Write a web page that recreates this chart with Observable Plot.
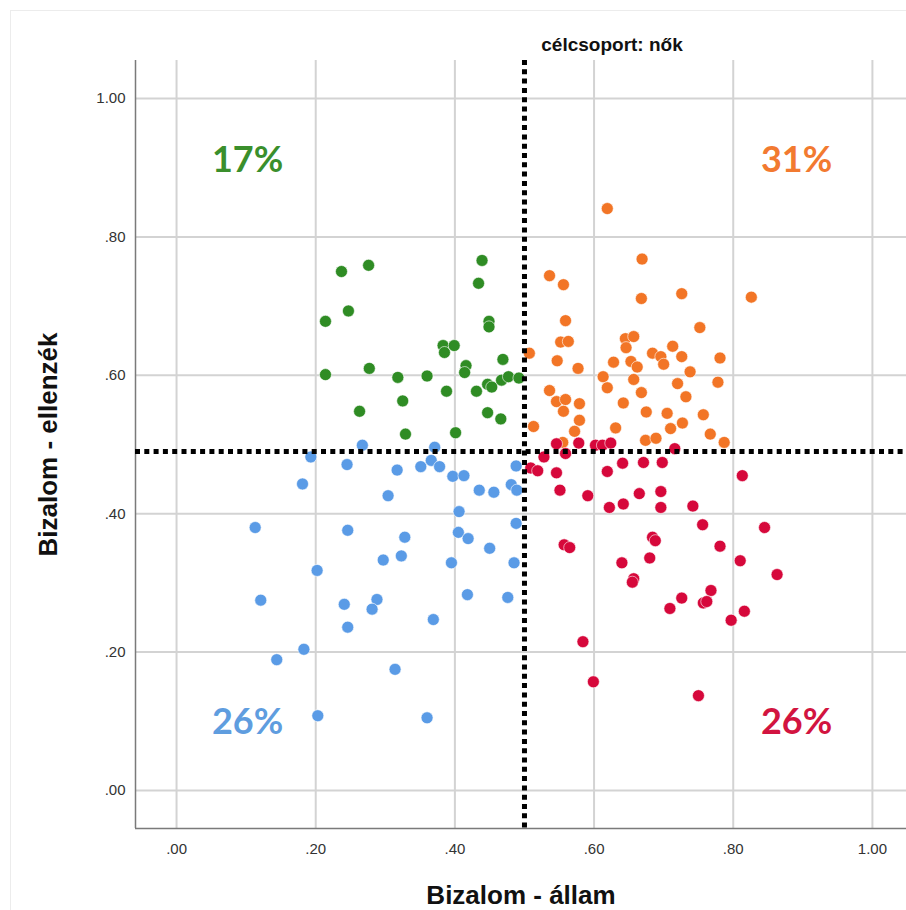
<!DOCTYPE html>
<html>
<head>
<meta charset="utf-8">
<script src="https://cdn.jsdelivr.net/npm/d3@7"></script>
<script src="https://cdn.jsdelivr.net/npm/@observablehq/plot@0.6"></script>
<style>
  html, body { margin: 0; padding: 0; background: #fff; }
  #wrap { position: relative; width: 906px; height: 910px; }
  #wrap::before { content: ""; position: absolute; left: 10px; top: 10px; right: 0; bottom: 0;
    border-left: 1px solid #ececec; border-top: 1px solid #ececec; pointer-events: none; }
</style>
</head>
<body>
<div id="wrap"></div>
<script>
// ---- data (x = Bizalom - állam, y = Bizalom - ellenzék) ----
const greenPts = [
  [0.237,0.750],[0.276,0.759],[0.439,0.766],[0.434,0.733],[0.214,0.678],[0.247,0.693],
  [0.449,0.678],[0.449,0.670],[0.383,0.643],[0.385,0.633],[0.399,0.643],[0.469,0.623],
  [0.214,0.601],[0.277,0.610],[0.318,0.597],[0.360,0.599],[0.416,0.614],[0.414,0.604],
  [0.388,0.577],[0.431,0.577],[0.447,0.587],[0.453,0.583],[0.467,0.593],[0.477,0.598],
  [0.492,0.596],[0.325,0.563],[0.263,0.548],[0.447,0.546],[0.466,0.537],[0.329,0.515],
  [0.401,0.517]
];
const orangePts = [
  [0.619,0.841],[0.669,0.768],[0.536,0.744],[0.556,0.731],[0.668,0.711],[0.726,0.718],
  [0.826,0.713],[0.559,0.679],[0.752,0.669],[0.552,0.648],[0.563,0.649],[0.645,0.653],
  [0.657,0.656],[0.646,0.640],[0.713,0.642],[0.507,0.632],[0.547,0.621],[0.577,0.610],
  [0.628,0.619],[0.653,0.620],[0.662,0.612],[0.684,0.632],[0.696,0.627],[0.700,0.616],
  [0.726,0.627],[0.738,0.605],[0.781,0.625],[0.613,0.598],[0.619,0.582],[0.657,0.594],
  [0.720,0.588],[0.778,0.590],[0.536,0.578],[0.546,0.562],[0.559,0.565],[0.556,0.548],
  [0.579,0.559],[0.642,0.560],[0.668,0.575],[0.732,0.569],[0.675,0.547],[0.705,0.545],
  [0.757,0.543],[0.579,0.535],[0.513,0.526],[0.572,0.519],[0.631,0.524],[0.710,0.523],
  [0.727,0.531],[0.767,0.515],[0.674,0.506],[0.689,0.509],[0.787,0.503],[0.555,0.503]
];
const bluePts = [
  [0.267,0.499],[0.193,0.482],[0.371,0.496],[0.245,0.471],[0.317,0.463],[0.351,0.468],
  [0.366,0.477],[0.378,0.468],[0.397,0.454],[0.413,0.455],[0.488,0.469],[0.181,0.443],
  [0.304,0.426],[0.435,0.434],[0.456,0.431],[0.481,0.442],[0.489,0.434],[0.406,0.403],
  [0.113,0.380],[0.246,0.376],[0.328,0.366],[0.405,0.373],[0.419,0.364],[0.488,0.386],
  [0.450,0.350],[0.297,0.333],[0.323,0.339],[0.395,0.329],[0.485,0.329],[0.202,0.318],
  [0.121,0.275],[0.241,0.269],[0.288,0.276],[0.281,0.262],[0.418,0.283],[0.476,0.279],
  [0.246,0.236],[0.369,0.247],[0.183,0.204],[0.144,0.189],[0.314,0.175],[0.203,0.108],
  [0.360,0.105]
];
const redPts = [
  [0.546,0.501],[0.578,0.502],[0.602,0.499],[0.612,0.499],[0.624,0.502],[0.716,0.494],
  [0.528,0.482],[0.559,0.487],[0.509,0.466],[0.519,0.462],[0.546,0.459],[0.641,0.473],
  [0.671,0.474],[0.698,0.474],[0.619,0.461],[0.813,0.455],[0.551,0.434],[0.591,0.426],
  [0.665,0.429],[0.696,0.432],[0.622,0.409],[0.642,0.414],[0.696,0.409],[0.742,0.411],
  [0.756,0.384],[0.845,0.380],[0.557,0.355],[0.565,0.351],[0.684,0.366],[0.688,0.361],
  [0.781,0.353],[0.640,0.329],[0.680,0.336],[0.810,0.332],[0.657,0.306],[0.655,0.301],
  [0.863,0.312],[0.768,0.289],[0.726,0.278],[0.709,0.263],[0.757,0.271],[0.762,0.273],
  [0.797,0.246],[0.816,0.259],[0.584,0.215],[0.599,0.157],[0.750,0.137]
];
const quadrants = ["green", "orange", "blue", "red"];
const percentLabels = ["17%", "31%", "26%", "26%"];
const tickValues = [0, 0.2, 0.4, 0.6, 0.8, 1.0];
const cutX = 0.5;
const cutY = 0.49;
const titleText = "célcsoport: nők";
const xLabel = "Bizalom - állam";
const yLabel = "Bizalom - ellenzék";

// ---- styles ----
const dotColors = {green: "#2f8c24", orange: "#f27526", blue: "#5a9be6", red: "#d6083b"};
const textColors = {green: "#3a8f2c", orange: "#f27a30", blue: "#5f9ddf", red: "#d21440"};
const labelAnchors = {green: [0.102, 0.91], orange: [0.891, 0.91], blue: [0.102, 0.098], red: [0.891, 0.098]};

const points = [];
[["green", greenPts], ["orange", orangePts], ["blue", bluePts], ["red", redPts]].forEach(([g, arr]) =>
  arr.forEach(([x, y]) => points.push({g, x, y})));

const quadText = quadrants.map((g, i) => ({g, label: percentLabels[i], x: labelAnchors[g][0], y: labelAnchors[g][1]}));

const fmt = d => d === 1 ? "1.00" : d3.format(".2f")(d).replace(/^0/, "");
const xDom = [-0.059, 1.049];
const yDom = [-0.055, 1.055];
const sans = "'Liberation Sans', Arial, sans-serif";

const chart = Plot.plot({
  width: 906,
  height: 910,
  marginLeft: 135,
  marginRight: 0,
  marginTop: 60,
  marginBottom: 82,
  style: {fontFamily: sans, background: "transparent"},
  x: {domain: xDom},
  y: {domain: yDom},
  marks: [
    Plot.gridX(tickValues, {stroke: "#d3d3d3", strokeOpacity: 1, strokeWidth: 2}),
    Plot.gridY(tickValues, {stroke: "#d3d3d3", strokeOpacity: 1, strokeWidth: 2}),
    Plot.ruleX([xDom[0]], {stroke: "#7a7a7a", strokeWidth: 1.5}),
    Plot.ruleY([yDom[0]], {stroke: "#7a7a7a", strokeWidth: 1.5}),
    Plot.axisX(tickValues, {tickSize: 0, tickPadding: 15, tickFormat: fmt, fontSize: 15, fill: "#333", label: null}),
    Plot.axisY(tickValues, {tickSize: 0, tickPadding: 10, tickFormat: fmt, fontSize: 15, fill: "#333", label: null}),
    Plot.dot(points, {x: "x", y: "y", r: 6, fill: d => dotColors[d.g], stroke: "white", strokeWidth: 0.6}),
    Plot.ruleX([cutX], {stroke: "black", strokeWidth: 5, strokeDasharray: "5,4.3"}),
    Plot.ruleY([cutY], {stroke: "black", strokeWidth: 5, strokeDasharray: "5,4.3"}),
    Plot.text(quadText, {x: "x", y: "y", text: "label", fill: d => textColors[d.g],
      fontSize: 36, fontWeight: 700, fontFamily: "Lato, 'Open Sans', sans-serif"}),
    Plot.text([titleText], {frameAnchor: "top", lineAnchor: "middle", textAnchor: "middle", dx: 91, dy: -16,
      fontSize: 19, fontWeight: 700, fill: "#111"}),
    Plot.text([xLabel], {frameAnchor: "bottom", lineAnchor: "middle", textAnchor: "middle", dy: 67,
      fontSize: 26, fontWeight: 700, fill: "#111"}),
    Plot.text([yLabel], {frameAnchor: "left", lineAnchor: "middle", textAnchor: "middle", dx: -87, rotate: -90,
      fontSize: 26, fontWeight: 700, fill: "#111"})
  ]
});
document.getElementById("wrap").appendChild(chart);
</script>
</body>
</html>
